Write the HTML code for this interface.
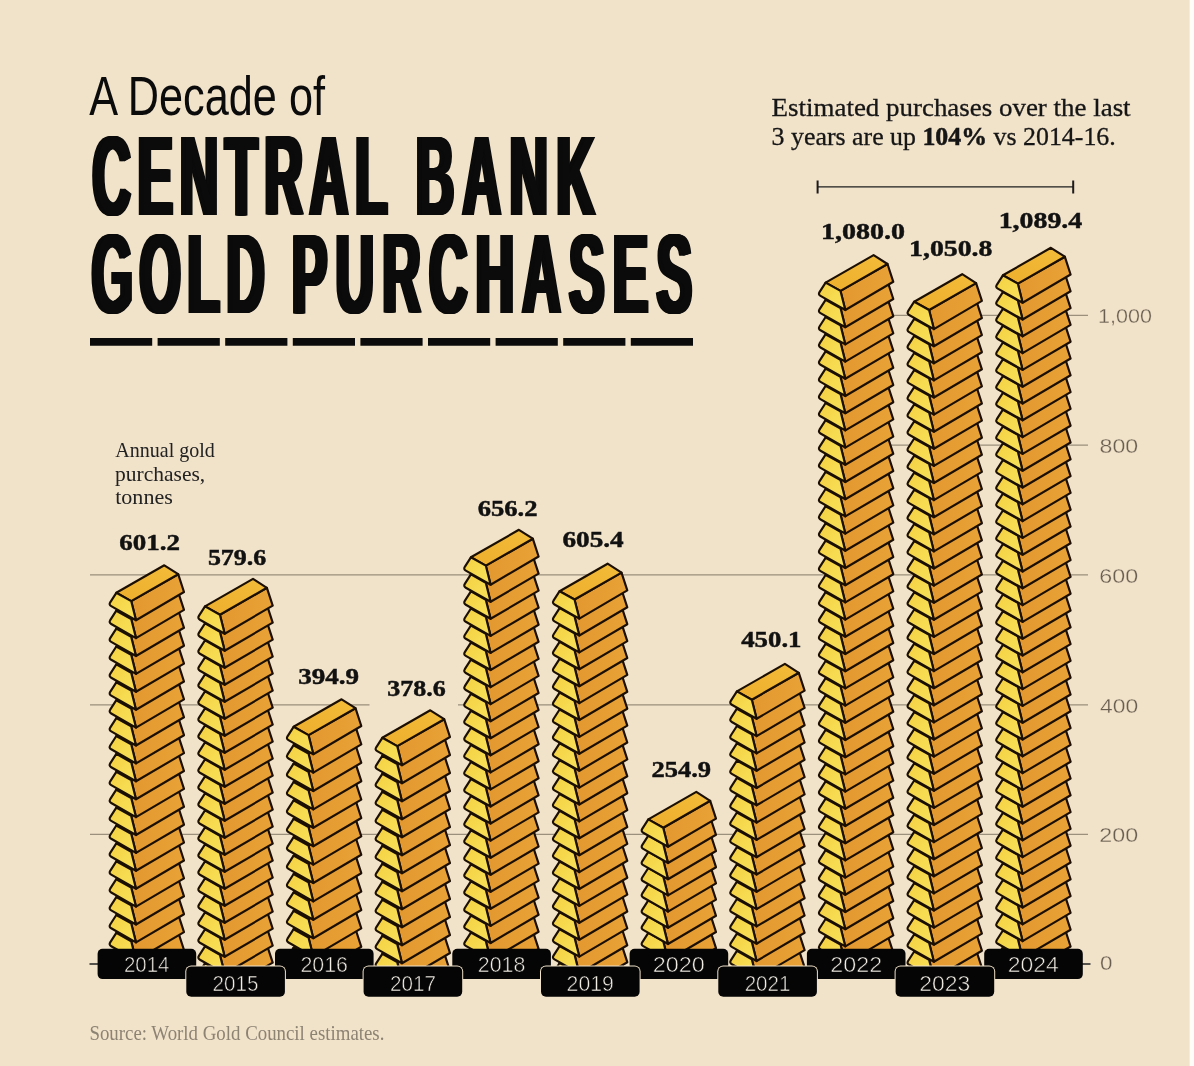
<!DOCTYPE html>
<html><head><meta charset="utf-8"><title>A Decade of Central Bank Gold Purchases</title>
<style>html,body{margin:0;padding:0;background:#f1e2ca;}body{width:1194px;height:1066px;overflow:hidden;font-family:"Liberation Sans",sans-serif;}</style>
</head><body>
<svg width="1194" height="1066" viewBox="0 0 1194 1066" style="display:block;will-change:transform">
<defs>
<linearGradient id="ge" x1="0" y1="0" x2="1" y2="1"><stop offset="0" stop-color="#f4cf42"/><stop offset=".6" stop-color="#f7dc52"/><stop offset="1" stop-color="#f8e05a"/></linearGradient>
<linearGradient id="gt" x1="0" y1="1" x2="1" y2="0"><stop offset="0" stop-color="#eeae2d"/><stop offset="1" stop-color="#f2bc39"/></linearGradient>
<linearGradient id="gs" x1="0" y1="0" x2="1" y2="0"><stop offset="0" stop-color="#e3982f"/><stop offset="1" stop-color="#e8a236"/></linearGradient>
<g id="b" stroke="#1b0f03" stroke-width="2.15" stroke-linejoin="round">
<path d="M-33.1,35.8 L13.9,8.9 L19.7,26.7 L-28.3,54.9 Z" fill="url(#gs)"/>
<path d="M-48.0,27.5 L0.0,0.0 L13.9,8.9 L-33.1,35.8 Z" fill="url(#gt)"/>
<path d="M-54.1,37.0 L-48.0,27.5 L-33.1,35.8 L-28.3,54.9 L-53.1,40.8 Q-55.6,39.4 -54.1,37.0 Z" fill="url(#ge)"/>
</g>
</defs>
<rect width="1194" height="1066" fill="#f1e2ca"/>
<rect x="1189.6" y="0" width="5" height="1066" fill="#fffdf8"/>
<path d="M860 315.3H1088 M860 445.1H1088 M90 574.9H1088 M90 704.9H369.5 M458 704.9H1088 M90 834.4H1088" stroke="#9b907c" stroke-width="1.2" fill="none"/><path d="M89.5 964H100 M1078 964H1090.5" stroke="#222" stroke-width="1.4"/>
<clipPath id="ce"><rect x="0" y="0" width="1194" height="964"/></clipPath><clipPath id="co"><rect x="0" y="0" width="1194" height="982"/></clipPath>
<g clip-path="url(#ce)"><use href="#b" x="164.3" y="923.3"/><use href="#b" x="164.3" y="905.4"/><use href="#b" x="164.3" y="887.5"/><use href="#b" x="164.3" y="869.6"/><use href="#b" x="164.3" y="851.7"/><use href="#b" x="164.3" y="833.8"/><use href="#b" x="164.3" y="815.9"/><use href="#b" x="164.3" y="798.0"/><use href="#b" x="164.3" y="780.1"/><use href="#b" x="164.3" y="762.2"/><use href="#b" x="164.3" y="744.3"/><use href="#b" x="164.3" y="726.4"/><use href="#b" x="164.3" y="708.5"/><use href="#b" x="164.3" y="690.6"/><use href="#b" x="164.3" y="672.7"/><use href="#b" x="164.3" y="654.8"/><use href="#b" x="164.3" y="636.9"/><use href="#b" x="164.3" y="619.0"/><use href="#b" x="164.3" y="601.1"/><use href="#b" x="164.3" y="583.2"/><use href="#b" x="164.3" y="565.3"/></g>
<g clip-path="url(#co)"><use href="#b" x="253.0" y="952.9"/><use href="#b" x="253.0" y="935.9"/><use href="#b" x="253.0" y="918.9"/><use href="#b" x="253.0" y="901.9"/><use href="#b" x="253.0" y="884.9"/><use href="#b" x="253.0" y="867.9"/><use href="#b" x="253.0" y="850.9"/><use href="#b" x="253.0" y="833.9"/><use href="#b" x="253.0" y="816.9"/><use href="#b" x="253.0" y="799.9"/><use href="#b" x="253.0" y="782.9"/><use href="#b" x="253.0" y="765.9"/><use href="#b" x="253.0" y="748.9"/><use href="#b" x="253.0" y="731.9"/><use href="#b" x="253.0" y="714.9"/><use href="#b" x="253.0" y="697.9"/><use href="#b" x="253.0" y="680.9"/><use href="#b" x="253.0" y="663.9"/><use href="#b" x="253.0" y="646.9"/><use href="#b" x="253.0" y="629.9"/><use href="#b" x="253.0" y="612.9"/><use href="#b" x="253.0" y="595.9"/><use href="#b" x="253.0" y="578.9"/></g>
<g clip-path="url(#ce)"><use href="#b" x="341.6" y="920.1"/><use href="#b" x="341.6" y="901.7"/><use href="#b" x="341.6" y="883.3"/><use href="#b" x="341.6" y="864.9"/><use href="#b" x="341.6" y="846.5"/><use href="#b" x="341.6" y="828.1"/><use href="#b" x="341.6" y="809.7"/><use href="#b" x="341.6" y="791.3"/><use href="#b" x="341.6" y="772.9"/><use href="#b" x="341.6" y="754.5"/><use href="#b" x="341.6" y="736.1"/><use href="#b" x="341.6" y="717.7"/><use href="#b" x="341.6" y="699.3"/></g>
<g clip-path="url(#co)"><use href="#b" x="430.3" y="944.3"/><use href="#b" x="430.3" y="926.3"/><use href="#b" x="430.3" y="908.3"/><use href="#b" x="430.3" y="890.3"/><use href="#b" x="430.3" y="872.3"/><use href="#b" x="430.3" y="854.3"/><use href="#b" x="430.3" y="836.3"/><use href="#b" x="430.3" y="818.3"/><use href="#b" x="430.3" y="800.3"/><use href="#b" x="430.3" y="782.3"/><use href="#b" x="430.3" y="764.3"/><use href="#b" x="430.3" y="746.3"/><use href="#b" x="430.3" y="728.3"/><use href="#b" x="430.3" y="710.3"/></g>
<g clip-path="url(#ce)"><use href="#b" x="518.9" y="922.2"/><use href="#b" x="518.9" y="905.1"/><use href="#b" x="518.9" y="888.1"/><use href="#b" x="518.9" y="871.0"/><use href="#b" x="518.9" y="853.9"/><use href="#b" x="518.9" y="836.9"/><use href="#b" x="518.9" y="819.8"/><use href="#b" x="518.9" y="802.8"/><use href="#b" x="518.9" y="785.7"/><use href="#b" x="518.9" y="768.6"/><use href="#b" x="518.9" y="751.6"/><use href="#b" x="518.9" y="734.5"/><use href="#b" x="518.9" y="717.5"/><use href="#b" x="518.9" y="700.4"/><use href="#b" x="518.9" y="683.3"/><use href="#b" x="518.9" y="666.3"/><use href="#b" x="518.9" y="649.2"/><use href="#b" x="518.9" y="632.2"/><use href="#b" x="518.9" y="615.1"/><use href="#b" x="518.9" y="598.0"/><use href="#b" x="518.9" y="581.0"/><use href="#b" x="518.9" y="563.9"/><use href="#b" x="518.9" y="546.9"/><use href="#b" x="518.9" y="529.8"/></g>
<g clip-path="url(#co)"><use href="#b" x="607.6" y="952.4"/><use href="#b" x="607.6" y="935.5"/><use href="#b" x="607.6" y="918.6"/><use href="#b" x="607.6" y="901.7"/><use href="#b" x="607.6" y="884.8"/><use href="#b" x="607.6" y="867.9"/><use href="#b" x="607.6" y="851.0"/><use href="#b" x="607.6" y="834.1"/><use href="#b" x="607.6" y="817.2"/><use href="#b" x="607.6" y="800.3"/><use href="#b" x="607.6" y="783.4"/><use href="#b" x="607.6" y="766.5"/><use href="#b" x="607.6" y="749.6"/><use href="#b" x="607.6" y="732.7"/><use href="#b" x="607.6" y="715.8"/><use href="#b" x="607.6" y="698.9"/><use href="#b" x="607.6" y="682.0"/><use href="#b" x="607.6" y="665.1"/><use href="#b" x="607.6" y="648.2"/><use href="#b" x="607.6" y="631.3"/><use href="#b" x="607.6" y="614.4"/><use href="#b" x="607.6" y="597.5"/><use href="#b" x="607.6" y="580.6"/><use href="#b" x="607.6" y="563.7"/></g>
<g clip-path="url(#ce)"><use href="#b" x="696.3" y="937.7"/><use href="#b" x="696.3" y="921.5"/><use href="#b" x="696.3" y="905.3"/><use href="#b" x="696.3" y="889.1"/><use href="#b" x="696.3" y="872.9"/><use href="#b" x="696.3" y="856.7"/><use href="#b" x="696.3" y="840.5"/><use href="#b" x="696.3" y="824.3"/><use href="#b" x="696.3" y="808.1"/><use href="#b" x="696.3" y="791.9"/></g>
<g clip-path="url(#co)"><use href="#b" x="784.9" y="940.7"/><use href="#b" x="784.9" y="923.4"/><use href="#b" x="784.9" y="906.1"/><use href="#b" x="784.9" y="888.8"/><use href="#b" x="784.9" y="871.5"/><use href="#b" x="784.9" y="854.2"/><use href="#b" x="784.9" y="836.9"/><use href="#b" x="784.9" y="819.6"/><use href="#b" x="784.9" y="802.3"/><use href="#b" x="784.9" y="785.0"/><use href="#b" x="784.9" y="767.7"/><use href="#b" x="784.9" y="750.4"/><use href="#b" x="784.9" y="733.1"/><use href="#b" x="784.9" y="715.8"/><use href="#b" x="784.9" y="698.5"/><use href="#b" x="784.9" y="681.2"/><use href="#b" x="784.9" y="663.9"/></g>
<g clip-path="url(#ce)"><use href="#b" x="873.6" y="925.9"/><use href="#b" x="873.6" y="908.7"/><use href="#b" x="873.6" y="891.5"/><use href="#b" x="873.6" y="874.3"/><use href="#b" x="873.6" y="857.1"/><use href="#b" x="873.6" y="839.9"/><use href="#b" x="873.6" y="822.7"/><use href="#b" x="873.6" y="805.5"/><use href="#b" x="873.6" y="788.3"/><use href="#b" x="873.6" y="771.1"/><use href="#b" x="873.6" y="753.9"/><use href="#b" x="873.6" y="736.7"/><use href="#b" x="873.6" y="719.5"/><use href="#b" x="873.6" y="702.3"/><use href="#b" x="873.6" y="685.1"/><use href="#b" x="873.6" y="667.9"/><use href="#b" x="873.6" y="650.7"/><use href="#b" x="873.6" y="633.5"/><use href="#b" x="873.6" y="616.3"/><use href="#b" x="873.6" y="599.1"/><use href="#b" x="873.6" y="581.9"/><use href="#b" x="873.6" y="564.7"/><use href="#b" x="873.6" y="547.5"/><use href="#b" x="873.6" y="530.3"/><use href="#b" x="873.6" y="513.1"/><use href="#b" x="873.6" y="495.9"/><use href="#b" x="873.6" y="478.7"/><use href="#b" x="873.6" y="461.5"/><use href="#b" x="873.6" y="444.3"/><use href="#b" x="873.6" y="427.1"/><use href="#b" x="873.6" y="409.9"/><use href="#b" x="873.6" y="392.7"/><use href="#b" x="873.6" y="375.5"/><use href="#b" x="873.6" y="358.3"/><use href="#b" x="873.6" y="341.1"/><use href="#b" x="873.6" y="323.9"/><use href="#b" x="873.6" y="306.7"/><use href="#b" x="873.6" y="289.5"/><use href="#b" x="873.6" y="272.3"/><use href="#b" x="873.6" y="255.1"/></g>
<g clip-path="url(#co)"><use href="#b" x="962.2" y="941.1"/><use href="#b" x="962.2" y="924.0"/><use href="#b" x="962.2" y="906.9"/><use href="#b" x="962.2" y="889.8"/><use href="#b" x="962.2" y="872.7"/><use href="#b" x="962.2" y="855.6"/><use href="#b" x="962.2" y="838.5"/><use href="#b" x="962.2" y="821.4"/><use href="#b" x="962.2" y="804.3"/><use href="#b" x="962.2" y="787.2"/><use href="#b" x="962.2" y="770.1"/><use href="#b" x="962.2" y="753.0"/><use href="#b" x="962.2" y="735.9"/><use href="#b" x="962.2" y="718.8"/><use href="#b" x="962.2" y="701.7"/><use href="#b" x="962.2" y="684.6"/><use href="#b" x="962.2" y="667.5"/><use href="#b" x="962.2" y="650.4"/><use href="#b" x="962.2" y="633.3"/><use href="#b" x="962.2" y="616.2"/><use href="#b" x="962.2" y="599.1"/><use href="#b" x="962.2" y="582.0"/><use href="#b" x="962.2" y="564.9"/><use href="#b" x="962.2" y="547.8"/><use href="#b" x="962.2" y="530.7"/><use href="#b" x="962.2" y="513.6"/><use href="#b" x="962.2" y="496.5"/><use href="#b" x="962.2" y="479.4"/><use href="#b" x="962.2" y="462.3"/><use href="#b" x="962.2" y="445.2"/><use href="#b" x="962.2" y="428.1"/><use href="#b" x="962.2" y="411.0"/><use href="#b" x="962.2" y="393.9"/><use href="#b" x="962.2" y="376.8"/><use href="#b" x="962.2" y="359.7"/><use href="#b" x="962.2" y="342.6"/><use href="#b" x="962.2" y="325.5"/><use href="#b" x="962.2" y="308.4"/><use href="#b" x="962.2" y="291.3"/><use href="#b" x="962.2" y="274.2"/></g>
<g clip-path="url(#ce)"><use href="#b" x="1050.9" y="936.6"/><use href="#b" x="1050.9" y="919.8"/><use href="#b" x="1050.9" y="903.0"/><use href="#b" x="1050.9" y="886.2"/><use href="#b" x="1050.9" y="869.4"/><use href="#b" x="1050.9" y="852.6"/><use href="#b" x="1050.9" y="835.8"/><use href="#b" x="1050.9" y="819.0"/><use href="#b" x="1050.9" y="802.2"/><use href="#b" x="1050.9" y="785.4"/><use href="#b" x="1050.9" y="768.6"/><use href="#b" x="1050.9" y="751.8"/><use href="#b" x="1050.9" y="735.0"/><use href="#b" x="1050.9" y="718.2"/><use href="#b" x="1050.9" y="701.4"/><use href="#b" x="1050.9" y="684.6"/><use href="#b" x="1050.9" y="667.8"/><use href="#b" x="1050.9" y="651.0"/><use href="#b" x="1050.9" y="634.2"/><use href="#b" x="1050.9" y="617.4"/><use href="#b" x="1050.9" y="600.6"/><use href="#b" x="1050.9" y="583.8"/><use href="#b" x="1050.9" y="567.0"/><use href="#b" x="1050.9" y="550.2"/><use href="#b" x="1050.9" y="533.4"/><use href="#b" x="1050.9" y="516.6"/><use href="#b" x="1050.9" y="499.8"/><use href="#b" x="1050.9" y="483.0"/><use href="#b" x="1050.9" y="466.2"/><use href="#b" x="1050.9" y="449.4"/><use href="#b" x="1050.9" y="432.6"/><use href="#b" x="1050.9" y="415.8"/><use href="#b" x="1050.9" y="399.0"/><use href="#b" x="1050.9" y="382.2"/><use href="#b" x="1050.9" y="365.4"/><use href="#b" x="1050.9" y="348.6"/><use href="#b" x="1050.9" y="331.8"/><use href="#b" x="1050.9" y="315.0"/><use href="#b" x="1050.9" y="298.2"/><use href="#b" x="1050.9" y="281.4"/><use href="#b" x="1050.9" y="264.6"/><use href="#b" x="1050.9" y="247.8"/></g>
<rect x="97.6" y="948.7" width="98.6" height="30.4" rx="5" fill="#050505"/><text transform="translate(123.98,972.19) scale(0.965,1)" font-family="Liberation Sans, sans-serif" font-size="21.2" fill="#f2eee6" stroke="#050505" stroke-width="0.55">2014</text>
<rect x="275.0" y="948.7" width="98.6" height="30.4" rx="5" fill="#050505"/><text transform="translate(300.45,972.19) scale(1.008,1)" font-family="Liberation Sans, sans-serif" font-size="21.2" fill="#f2eee6" stroke="#050505" stroke-width="0.55">2016</text>
<rect x="452.3" y="948.7" width="98.6" height="30.4" rx="5" fill="#050505"/><text transform="translate(477.77,972.19) scale(1.008,1)" font-family="Liberation Sans, sans-serif" font-size="21.2" fill="#f2eee6" stroke="#050505" stroke-width="0.55">2018</text>
<rect x="629.6" y="948.7" width="98.6" height="30.4" rx="5" fill="#050505"/><text transform="translate(652.74,972.19) scale(1.105,1)" font-family="Liberation Sans, sans-serif" font-size="21.2" fill="#f2eee6" stroke="#050505" stroke-width="0.55">2020</text>
<rect x="806.9" y="948.7" width="98.6" height="30.4" rx="5" fill="#050505"/><text transform="translate(830.31,972.19) scale(1.1,1)" font-family="Liberation Sans, sans-serif" font-size="21.2" fill="#f2eee6" stroke="#050505" stroke-width="0.55">2022</text>
<rect x="984.2" y="948.7" width="98.6" height="30.4" rx="5" fill="#050505"/><text transform="translate(1007.8,972.19) scale(1.082,1)" font-family="Liberation Sans, sans-serif" font-size="21.2" fill="#f2eee6" stroke="#050505" stroke-width="0.55">2024</text>
<rect x="185.3" y="965.4" width="100.6" height="32.4" rx="6" fill="#f1e2ca"/><rect x="186.3" y="966.4" width="98.6" height="30.4" rx="5" fill="#050505"/><text transform="translate(212.58,990.69) scale(0.973,1)" font-family="Liberation Sans, sans-serif" font-size="21.2" fill="#f2eee6" stroke="#050505" stroke-width="0.55">2015</text>
<rect x="362.6" y="965.4" width="100.6" height="32.4" rx="6" fill="#f1e2ca"/><rect x="363.6" y="966.4" width="98.6" height="30.4" rx="5" fill="#050505"/><text transform="translate(390.0,990.69) scale(0.973,1)" font-family="Liberation Sans, sans-serif" font-size="21.2" fill="#f2eee6" stroke="#050505" stroke-width="0.55">2017</text>
<rect x="540.0" y="965.4" width="100.6" height="32.4" rx="6" fill="#f1e2ca"/><rect x="541.0" y="966.4" width="98.6" height="30.4" rx="5" fill="#050505"/><text transform="translate(566.59,990.69) scale(1.002,1)" font-family="Liberation Sans, sans-serif" font-size="21.2" fill="#f2eee6" stroke="#050505" stroke-width="0.55">2019</text>
<rect x="717.3" y="965.4" width="100.6" height="32.4" rx="6" fill="#f1e2ca"/><rect x="718.3" y="966.4" width="98.6" height="30.4" rx="5" fill="#050505"/><text transform="translate(744.64,990.69) scale(0.972,1)" font-family="Liberation Sans, sans-serif" font-size="21.2" fill="#f2eee6" stroke="#050505" stroke-width="0.55">2021</text>
<rect x="894.6" y="965.4" width="100.6" height="32.4" rx="6" fill="#f1e2ca"/><rect x="895.6" y="966.4" width="98.6" height="30.4" rx="5" fill="#050505"/><text transform="translate(919.29,990.69) scale(1.083,1)" font-family="Liberation Sans, sans-serif" font-size="21.2" fill="#f2eee6" stroke="#050505" stroke-width="0.55">2023</text>
<text transform="translate(1098.1,322.9) scale(1.111,1)" font-family="Liberation Sans, sans-serif" font-size="19.4" fill="#695f50" stroke="#f1e2ca" stroke-width="0.3">1,000</text>
<text transform="translate(1099.5,452.7) scale(1.195,1)" font-family="Liberation Sans, sans-serif" font-size="19.4" fill="#695f50" stroke="#f1e2ca" stroke-width="0.3">800</text>
<text transform="translate(1099.3,582.5) scale(1.201,1)" font-family="Liberation Sans, sans-serif" font-size="19.4" fill="#695f50" stroke="#f1e2ca" stroke-width="0.3">600</text>
<text transform="translate(1100.0,712.5) scale(1.180,1)" font-family="Liberation Sans, sans-serif" font-size="19.4" fill="#695f50" stroke="#f1e2ca" stroke-width="0.3">400</text>
<text transform="translate(1099.3,842.0) scale(1.201,1)" font-family="Liberation Sans, sans-serif" font-size="19.4" fill="#695f50" stroke="#f1e2ca" stroke-width="0.3">200</text>
<text transform="translate(1100.0,970.0) scale(1.155,1)" font-family="Liberation Sans, sans-serif" font-size="19.4" fill="#695f50" stroke="#f1e2ca" stroke-width="0.3">0</text>
<text transform="translate(119.2,549.9) scale(1.207,1)" font-family="Liberation Serif, serif" font-weight="bold" font-size="22.35" fill="#111" stroke="#111" stroke-width="0.45">601.2</text>
<text transform="translate(207.9,565.1) scale(1.157,1)" font-family="Liberation Serif, serif" font-weight="bold" font-size="22.44" fill="#111" stroke="#111" stroke-width="0.45">579.6</text>
<text transform="translate(298.2,683.6) scale(1.207,1)" font-family="Liberation Serif, serif" font-weight="bold" font-size="22.44" fill="#111" stroke="#111" stroke-width="0.45">394.9</text>
<text transform="translate(387.3,696.0) scale(1.164,1)" font-family="Liberation Serif, serif" font-weight="bold" font-size="22.35" fill="#111" stroke="#111" stroke-width="0.45">378.6</text>
<text transform="translate(477.7,515.8) scale(1.186,1)" font-family="Liberation Serif, serif" font-weight="bold" font-size="22.44" fill="#111" stroke="#111" stroke-width="0.45">656.2</text>
<text transform="translate(562.5,546.9) scale(1.218,1)" font-family="Liberation Serif, serif" font-weight="bold" font-size="22.35" fill="#111" stroke="#111" stroke-width="0.45">605.4</text>
<text transform="translate(651.4,777.2) scale(1.182,1)" font-family="Liberation Serif, serif" font-weight="bold" font-size="22.44" fill="#111" stroke="#111" stroke-width="0.45">254.9</text>
<text transform="translate(741.2,647.1) scale(1.200,1)" font-family="Liberation Serif, serif" font-weight="bold" font-size="22.35" fill="#111" stroke="#111" stroke-width="0.45">450.1</text>
<text transform="translate(821.0,238.6) scale(1.254,1)" font-family="Liberation Serif, serif" font-weight="bold" font-size="22.35" fill="#111" stroke="#111" stroke-width="0.45">1,080.0</text>
<text transform="translate(909.1,256.4) scale(1.243,1)" font-family="Liberation Serif, serif" font-weight="bold" font-size="22.35" fill="#111" stroke="#111" stroke-width="0.45">1,050.8</text>
<text transform="translate(998.7,227.9) scale(1.246,1)" font-family="Liberation Serif, serif" font-weight="bold" font-size="22.35" fill="#111" stroke="#111" stroke-width="0.45">1,089.4</text>
<text transform="translate(89.29,114.9) scale(0.784,1)" font-family="Liberation Sans, sans-serif" font-size="55.2" fill="#0b0b0b">A Decade of</text>
<text id="t1" transform="translate(92.28,214.5) scale(0.47,1)" font-family="Liberation Sans, sans-serif" font-weight="bold" font-size="112.6" letter-spacing="14.99" fill="#0b0b0b">CENTRAL</text>
<use href="#t1" x="-2.40"/>
<use href="#t1" x="-1.60"/>
<use href="#t1" x="-0.80"/>
<use href="#t1" x="0.80"/>
<use href="#t1" x="1.60"/>
<use href="#t1" x="2.40"/>
<text id="t2" transform="translate(415.83,214.5) scale(0.47,1)" font-family="Liberation Sans, sans-serif" font-weight="bold" font-size="112.6" letter-spacing="18.41" fill="#0b0b0b">BANK</text>
<use href="#t2" x="-2.40"/>
<use href="#t2" x="-1.60"/>
<use href="#t2" x="-0.80"/>
<use href="#t2" x="0.80"/>
<use href="#t2" x="1.60"/>
<use href="#t2" x="2.40"/>
<text id="t3" transform="translate(91.58,313.0) scale(0.47,1)" font-family="Liberation Sans, sans-serif" font-weight="bold" font-size="112.6" letter-spacing="14.34" fill="#0b0b0b">GOLD</text>
<use href="#t3" x="-2.40"/>
<use href="#t3" x="-1.60"/>
<use href="#t3" x="-0.80"/>
<use href="#t3" x="0.80"/>
<use href="#t3" x="1.60"/>
<use href="#t3" x="2.40"/>
<text id="t4" transform="translate(291.93,313.0) scale(0.47,1)" font-family="Liberation Sans, sans-serif" font-weight="bold" font-size="112.6" letter-spacing="18.02" fill="#0b0b0b">PURCHASES</text>
<use href="#t4" x="-2.40"/>
<use href="#t4" x="-1.60"/>
<use href="#t4" x="-0.80"/>
<use href="#t4" x="0.80"/>
<use href="#t4" x="1.60"/>
<use href="#t4" x="2.40"/>
<path d="M90.0 341.9H152.2 M157.6 341.9H219.8 M225.2 341.9H287.4 M292.8 341.9H355.0 M360.4 341.9H422.6 M428.0 341.9H490.2 M495.6 341.9H557.8 M563.2 341.9H625.4 M630.8 341.9H693.0" stroke="#0b0b0b" stroke-width="7.8" fill="none"/>
<text transform="translate(771.6,116) scale(1.065,1)" font-family="Liberation Serif, serif" font-size="25.3" fill="#161616" stroke="#161616" stroke-width="0.3">Estimated purchases over the last</text>
<text transform="translate(771.6,145.4) scale(1.023,1)" font-family="Liberation Serif, serif" font-size="25.3" fill="#161616" stroke="#161616" stroke-width="0.3">3 years are up <tspan font-weight="bold" stroke-width="0.5">104%</tspan> vs 2014-16.</text>
<path d="M817.6 186.9H1073.2" stroke="#1c1c1c" stroke-width="1.4" fill="none"/><path d="M817.6 180.4V193.4 M1073.2 180.4V193.4" stroke="#1c1c1c" stroke-width="2" fill="none"/>
<text transform="translate(115.2,457.1) scale(0.983,1)" font-family="Liberation Serif, serif" font-size="20.4" fill="#222">Annual gold</text>
<text transform="translate(115.1,480.5) scale(1.054,1)" font-family="Liberation Serif, serif" font-size="20.4" fill="#222">purchases,</text>
<text transform="translate(115.2,504.3) scale(1.082,1)" font-family="Liberation Serif, serif" font-size="20.4" fill="#222">tonnes</text>
<text transform="translate(89.4,1040.3) scale(0.948,1)" font-family="Liberation Serif, serif" font-size="19.9" fill="#8d8373">Source: World Gold Council estimates.</text>
</svg>
</body></html>
